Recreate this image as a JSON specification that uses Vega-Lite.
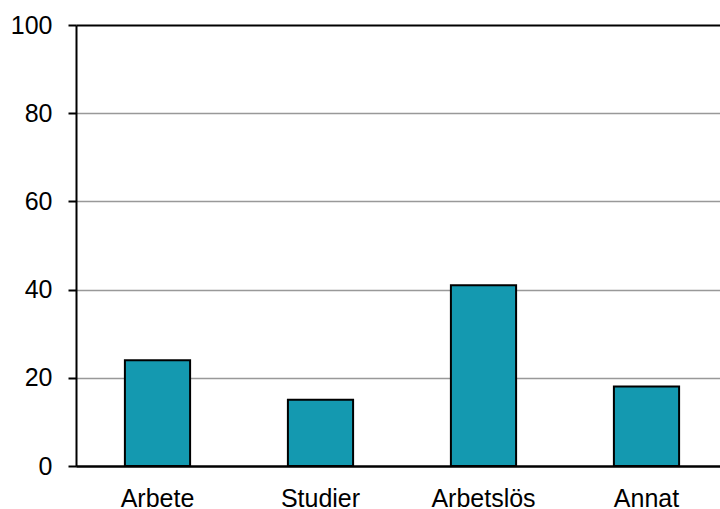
{
  "$schema": "https://vega.github.io/schema/vega-lite/v6.json",
  "autosize": "none",
  "padding": {"left": 76, "top": 25, "right": 0, "bottom": 43},
  "width": 644,
  "height": 441,
  "background": "white",
  "config": {"view": {"stroke": null}, "font": "Liberation Sans"},
  "data": {"values": [
    {"kategori": "Arbete", "andel": 24},
    {"kategori": "Studier", "andel": 15},
    {"kategori": "Arbetslös", "andel": 41},
    {"kategori": "Annat", "andel": 18}
  ]},
  "mark": {"type": "bar", "color": "#1499B0", "stroke": "black", "strokeWidth": 2},
  "encoding": {
    "x": {
      "field": "kategori", "type": "nominal", "sort": null,
      "scale": {"range": [0, 652], "paddingInner": 0.6, "paddingOuter": 0.3},
      "axis": {"title": null, "labelAngle": 0, "ticks": false, "domainColor": "black", "domainWidth": 2,
               "labelFont": "Liberation Sans", "labelFontSize": 25, "labelColor": "black",
               "labelBaseline": "alphabetic", "labelPadding": 40, "zindex": 1}
    },
    "y": {
      "field": "andel", "type": "quantitative",
      "scale": {"domain": [0, 100], "nice": false},
      "axis": {"title": null, "values": [0, 20, 40, 60, 80, 100], "tickSize": 8, "tickColor": "black", "tickWidth": 2,
               "domainColor": "black", "domainWidth": 2,
               "grid": true,
               "gridColor": {"condition": {"test": "datum.value === 100 || datum.value === 0", "value": "black"}, "value": "#999999"},
               "gridWidth": {"condition": {"test": "datum.value === 100 || datum.value === 0", "value": 2}, "value": 1.5},
               "labelFont": "Liberation Sans", "labelFontSize": 25, "labelColor": "black", "labelPadding": 16}
    }
  }
}
